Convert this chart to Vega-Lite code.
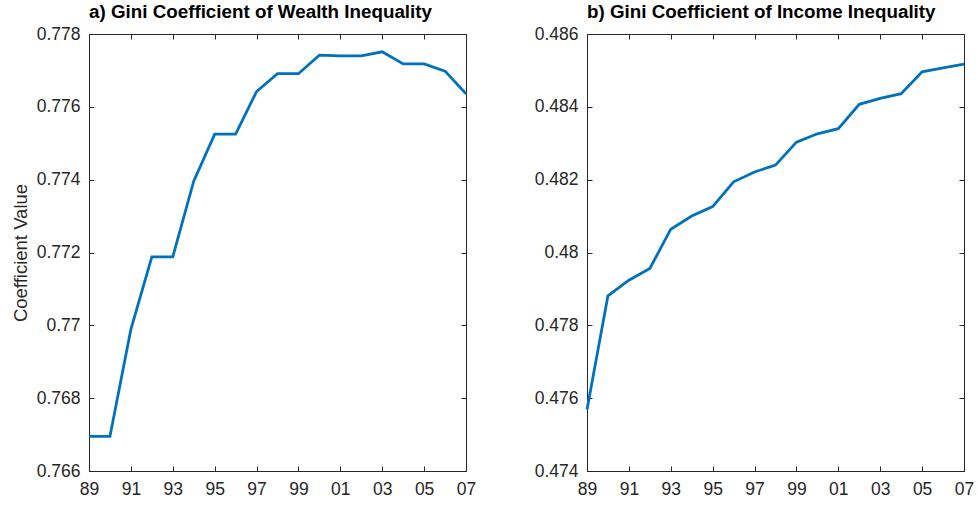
{
  "$schema": "https://vega.github.io/schema/vega-lite/v6.json",
  "background": "white",
  "padding": {"left": 10, "top": 2, "right": 10, "bottom": 5},
  "spacing": 56,
  "datasets": {
    "wealth": [
      {"year": 1989, "gini": 0.76695},
      {"year": 1990, "gini": 0.76695},
      {"year": 1991, "gini": 0.76989},
      {"year": 1992, "gini": 0.77188},
      {"year": 1993, "gini": 0.77188},
      {"year": 1994, "gini": 0.77396},
      {"year": 1995, "gini": 0.77525},
      {"year": 1996, "gini": 0.77525},
      {"year": 1997, "gini": 0.77642},
      {"year": 1998, "gini": 0.77691},
      {"year": 1999, "gini": 0.77691},
      {"year": 2000, "gini": 0.77742},
      {"year": 2001, "gini": 0.7774},
      {"year": 2002, "gini": 0.7774},
      {"year": 2003, "gini": 0.77751},
      {"year": 2004, "gini": 0.77718},
      {"year": 2005, "gini": 0.77718},
      {"year": 2006, "gini": 0.77698},
      {"year": 2007, "gini": 0.77636}
    ],
    "income": [
      {"year": 1989, "gini": 0.47569},
      {"year": 1990, "gini": 0.47881},
      {"year": 1991, "gini": 0.47924},
      {"year": 1992, "gini": 0.47956},
      {"year": 1993, "gini": 0.48064},
      {"year": 1994, "gini": 0.481},
      {"year": 1995, "gini": 0.48126},
      {"year": 1996, "gini": 0.48194},
      {"year": 1997, "gini": 0.48221},
      {"year": 1998, "gini": 0.4824},
      {"year": 1999, "gini": 0.48303},
      {"year": 2000, "gini": 0.48326},
      {"year": 2001, "gini": 0.4834},
      {"year": 2002, "gini": 0.48407},
      {"year": 2003, "gini": 0.48423},
      {"year": 2004, "gini": 0.48436},
      {"year": 2005, "gini": 0.48496},
      {"year": 2006, "gini": 0.48507},
      {"year": 2007, "gini": 0.48517}
    ]
  },
  "config": {
    "font": "Liberation Sans",
    "view": {"stroke": "#262626", "strokeWidth": 1},
    "axis": {
      "grid": false,
      "labelFont": "Liberation Sans",
      "labelFontSize": 17.5,
      "labelColor": "#262626",
      "labelFlush": false,
      "domainColor": "#262626",
      "tickColor": "#262626",
      "tickSize": -5,
      "titleFont": "Liberation Sans",
      "titleFontSize": 18.5,
      "titleFontWeight": "normal",
      "titleColor": "#262626"
    },
    "axisX": {"labelPadding": 14},
    "axisY": {"labelPadding": 14},
    "title": {
      "font": "Liberation Sans",
      "fontSize": 18.8,
      "fontWeight": "bold",
      "color": "#000000",
      "anchor": "start",
      "frame": "group",
      "baseline": "bottom",
      "offset": 3
    }
  },
  "hconcat": [
    {
      "width": 377,
      "height": 437,
      "title": "a) Gini Coefficient of Wealth Inequality",
      "data": {"name": "wealth"},
      "resolve": {"axis": {"x": "independent", "y": "independent"}},
      "layer": [
        {
          "mark": {"type": "line", "color": "#0072BD", "strokeWidth": 2.8},
          "encoding": {
            "x": {"field": "year", "type": "quantitative", "scale": {"domain": [1989, 2007], "nice": false},
                  "axis": {"title": null, "values": [1989,1991,1993,1995,1997,1999,2001,2003,2005,2007], "labelExpr": "substring(toString(datum.value), 2)"}},
            "y": {"field": "gini", "type": "quantitative", "scale": {"domain": [0.766, 0.778], "nice": false, "zero": false},
                  "axis": {"title": "Coefficient Value", "values": [0.766,0.768,0.77,0.772,0.774,0.776,0.778], "format": ".3~f", "titlePadding": 6}}
          }
        },
        {
          "mark": {"type": "line", "opacity": 0},
          "encoding": {
            "x": {"field": "year", "type": "quantitative", "axis": {"orient": "top", "title": null, "labels": false, "domain": false, "values": [1989,1991,1993,1995,1997,1999,2001,2003,2005,2007]}},
            "y": {"field": "gini", "type": "quantitative", "axis": {"orient": "right", "title": null, "labels": false, "domain": false, "values": [0.766,0.768,0.77,0.772,0.774,0.776,0.778]}}
          }
        }
      ]
    },
    {
      "width": 377,
      "height": 437,
      "title": "b) Gini Coefficient of Income Inequality",
      "data": {"name": "income"},
      "resolve": {"axis": {"x": "independent", "y": "independent"}},
      "layer": [
        {
          "mark": {"type": "line", "color": "#0072BD", "strokeWidth": 2.8},
          "encoding": {
            "x": {"field": "year", "type": "quantitative", "scale": {"domain": [1989, 2007], "nice": false},
                  "axis": {"title": null, "values": [1989,1991,1993,1995,1997,1999,2001,2003,2005,2007], "labelExpr": "substring(toString(datum.value), 2)"}},
            "y": {"field": "gini", "type": "quantitative", "scale": {"domain": [0.474, 0.486], "nice": false, "zero": false},
                  "axis": {"title": null, "values": [0.474,0.476,0.478,0.48,0.482,0.484,0.486], "format": ".3~f"}}
          }
        },
        {
          "mark": {"type": "line", "opacity": 0},
          "encoding": {
            "x": {"field": "year", "type": "quantitative", "axis": {"orient": "top", "title": null, "labels": false, "domain": false, "values": [1989,1991,1993,1995,1997,1999,2001,2003,2005,2007]}},
            "y": {"field": "gini", "type": "quantitative", "axis": {"orient": "right", "title": null, "labels": false, "domain": false, "values": [0.474,0.476,0.478,0.48,0.482,0.484,0.486]}}
          }
        }
      ]
    }
  ]
}
